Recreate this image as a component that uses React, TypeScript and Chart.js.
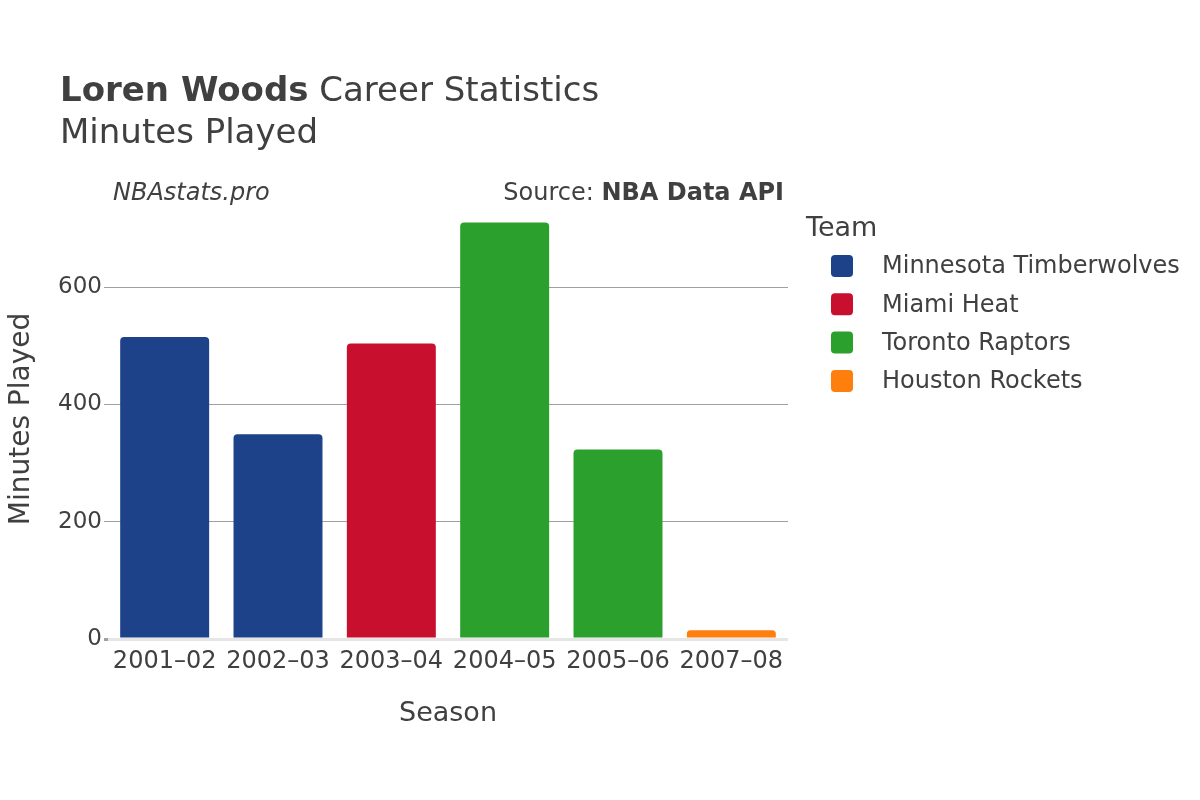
import React, { useEffect, useRef } from "react";
import { Chart, registerables } from "chart.js";

Chart.register(...registerables);

const seasons = ["2001–02", "2002–03", "2003–04", "2004–05", "2005–06", "2007–08"];
const teams = ["Minnesota Timberwolves", "Miami Heat", "Toronto Raptors", "Houston Rockets"];
const teamColors = ["#1D428A", "#C8102E", "#2CA02C", "#FF7F0E"];
const minnesotaMinutes = [515, 349, null, null, null, null];
const miamiMinutes = [null, null, 504, null, null, null];
const torontoMinutes = [null, null, null, 710, 323, null];
const houstonMinutes = [null, null, null, null, null, 15];
const yTicks = [0, 200, 400, 600];

const FONT = "'DejaVu Sans', sans-serif";
const TEXT = "#404040";

const textPlugin = {
  id: "textPlugin",
  afterDraw(chart: any) {
    const ctx = chart.ctx as CanvasRenderingContext2D;
    ctx.save();
    ctx.fillStyle = TEXT;
    ctx.textBaseline = "alphabetic";
    ctx.textAlign = "left";
    // Title
    ctx.font = `bold 34px ${FONT}`;
    const bold = "Loren Woods";
    ctx.fillText(bold, 60, 101);
    const bw = ctx.measureText(bold).width;
    ctx.font = `34px ${FONT}`;
    ctx.fillText(" Career Statistics", 60 + bw, 101);
    ctx.font = `34px ${FONT}`;
    ctx.fillText("Minutes Played", 60, 143);
    // Credits
    ctx.font = `italic 24px ${FONT}`;
    ctx.fillText("NBAstats.pro", 113, 200);
    ctx.font = `bold 24px ${FONT}`;
    const src = "NBA Data API";
    const sw = ctx.measureText(src).width;
    ctx.textAlign = "right";
    ctx.fillText(src, 784, 200);
    ctx.font = `24px ${FONT}`;
    ctx.fillText("Source: ", 784 - sw, 200);
    // Axis titles
    ctx.textAlign = "center";
    ctx.font = `27px ${FONT}`;
    const area = chart.chartArea;
    ctx.fillText("Season", (area.left + area.right) / 2, 721);
    ctx.save();
    ctx.font = `28px ${FONT}`;
    ctx.translate(29, 419);
    ctx.rotate(-Math.PI / 2);
    ctx.fillText("Minutes Played", 0, 0);
    ctx.restore();
    // Legend
    ctx.textAlign = "left";
    ctx.font = `27px ${FONT}`;
    ctx.fillText("Team", 806, 236);
    ctx.font = `24px ${FONT}`;
    ctx.textBaseline = "middle";
    chart.data.datasets.forEach((ds: any, i: number) => {
      const cy = 266 + i * 38.3;
      ctx.fillStyle = ds.backgroundColor;
      ctx.beginPath();
      (ctx as any).roundRect(831, cy - 11, 22, 22, 4);
      ctx.fill();
      ctx.fillStyle = TEXT;
      ctx.fillText(ds.label, 882, cy + 1);
    });
    ctx.restore();
  },
};

export default function App() {
  const ref = useRef<HTMLCanvasElement | null>(null);
  useEffect(() => {
    if (!ref.current) return;
    const seriesData = [minnesotaMinutes, miamiMinutes, torontoMinutes, houstonMinutes];
    const chart = new Chart(ref.current, {
      type: "bar",
      data: {
        labels: seasons,
        datasets: teams.map((t, i) => ({
          label: t,
          data: seriesData[i] as any,
          backgroundColor: teamColors[i],
          borderRadius: 4,
          borderSkipped: "start",
          skipNull: true,
          categoryPercentage: 1,
          barPercentage: 0.785,
        })),
      },
      options: {
        responsive: false,
        animation: false,
        devicePixelRatio: 1,
        layout: { padding: { top: 205, right: 412, left: 0, bottom: 0 } },
        plugins: { legend: { display: false }, tooltip: { enabled: false }, title: { display: false } },
        scales: {
          x: {
            grid: { display: false },
            border: { display: false },
            ticks: { color: TEXT, font: { family: FONT, size: 24 }, padding: 0, maxRotation: 0 },
            afterFit: (s: any) => { s.height = 161; },
          },
          y: {
            min: 0,
            max: 740,
            border: { display: false },
            afterBuildTicks: (s: any) => {
              s.ticks = yTicks.map((v) => ({ value: v }));
            },
            grid: {
              color: (c: any) => (c.tick && c.tick.value === 0 ? "#e6e6e6" : "#a0a0a0"),
              lineWidth: (c: any) => (c.tick && c.tick.value === 0 ? 3 : 1),
              tickLength: 4,
              tickColor: "#a0a0a0",
            },
            ticks: { color: TEXT, font: { family: FONT, size: 23 }, padding: 2 },
            afterFit: (s: any) => { s.width = 108; },
          },
        },
      },
      plugins: [textPlugin],
    });
    return () => chart.destroy();
  }, []);
  return (
    <div style={{ position: "absolute", left: 0, top: 0, width: 1200, height: 800, background: "#fff" }}>
      <canvas ref={ref} width={1200} height={800} style={{ width: 1200, height: 800, display: "block" }} />
    </div>
  );
}
